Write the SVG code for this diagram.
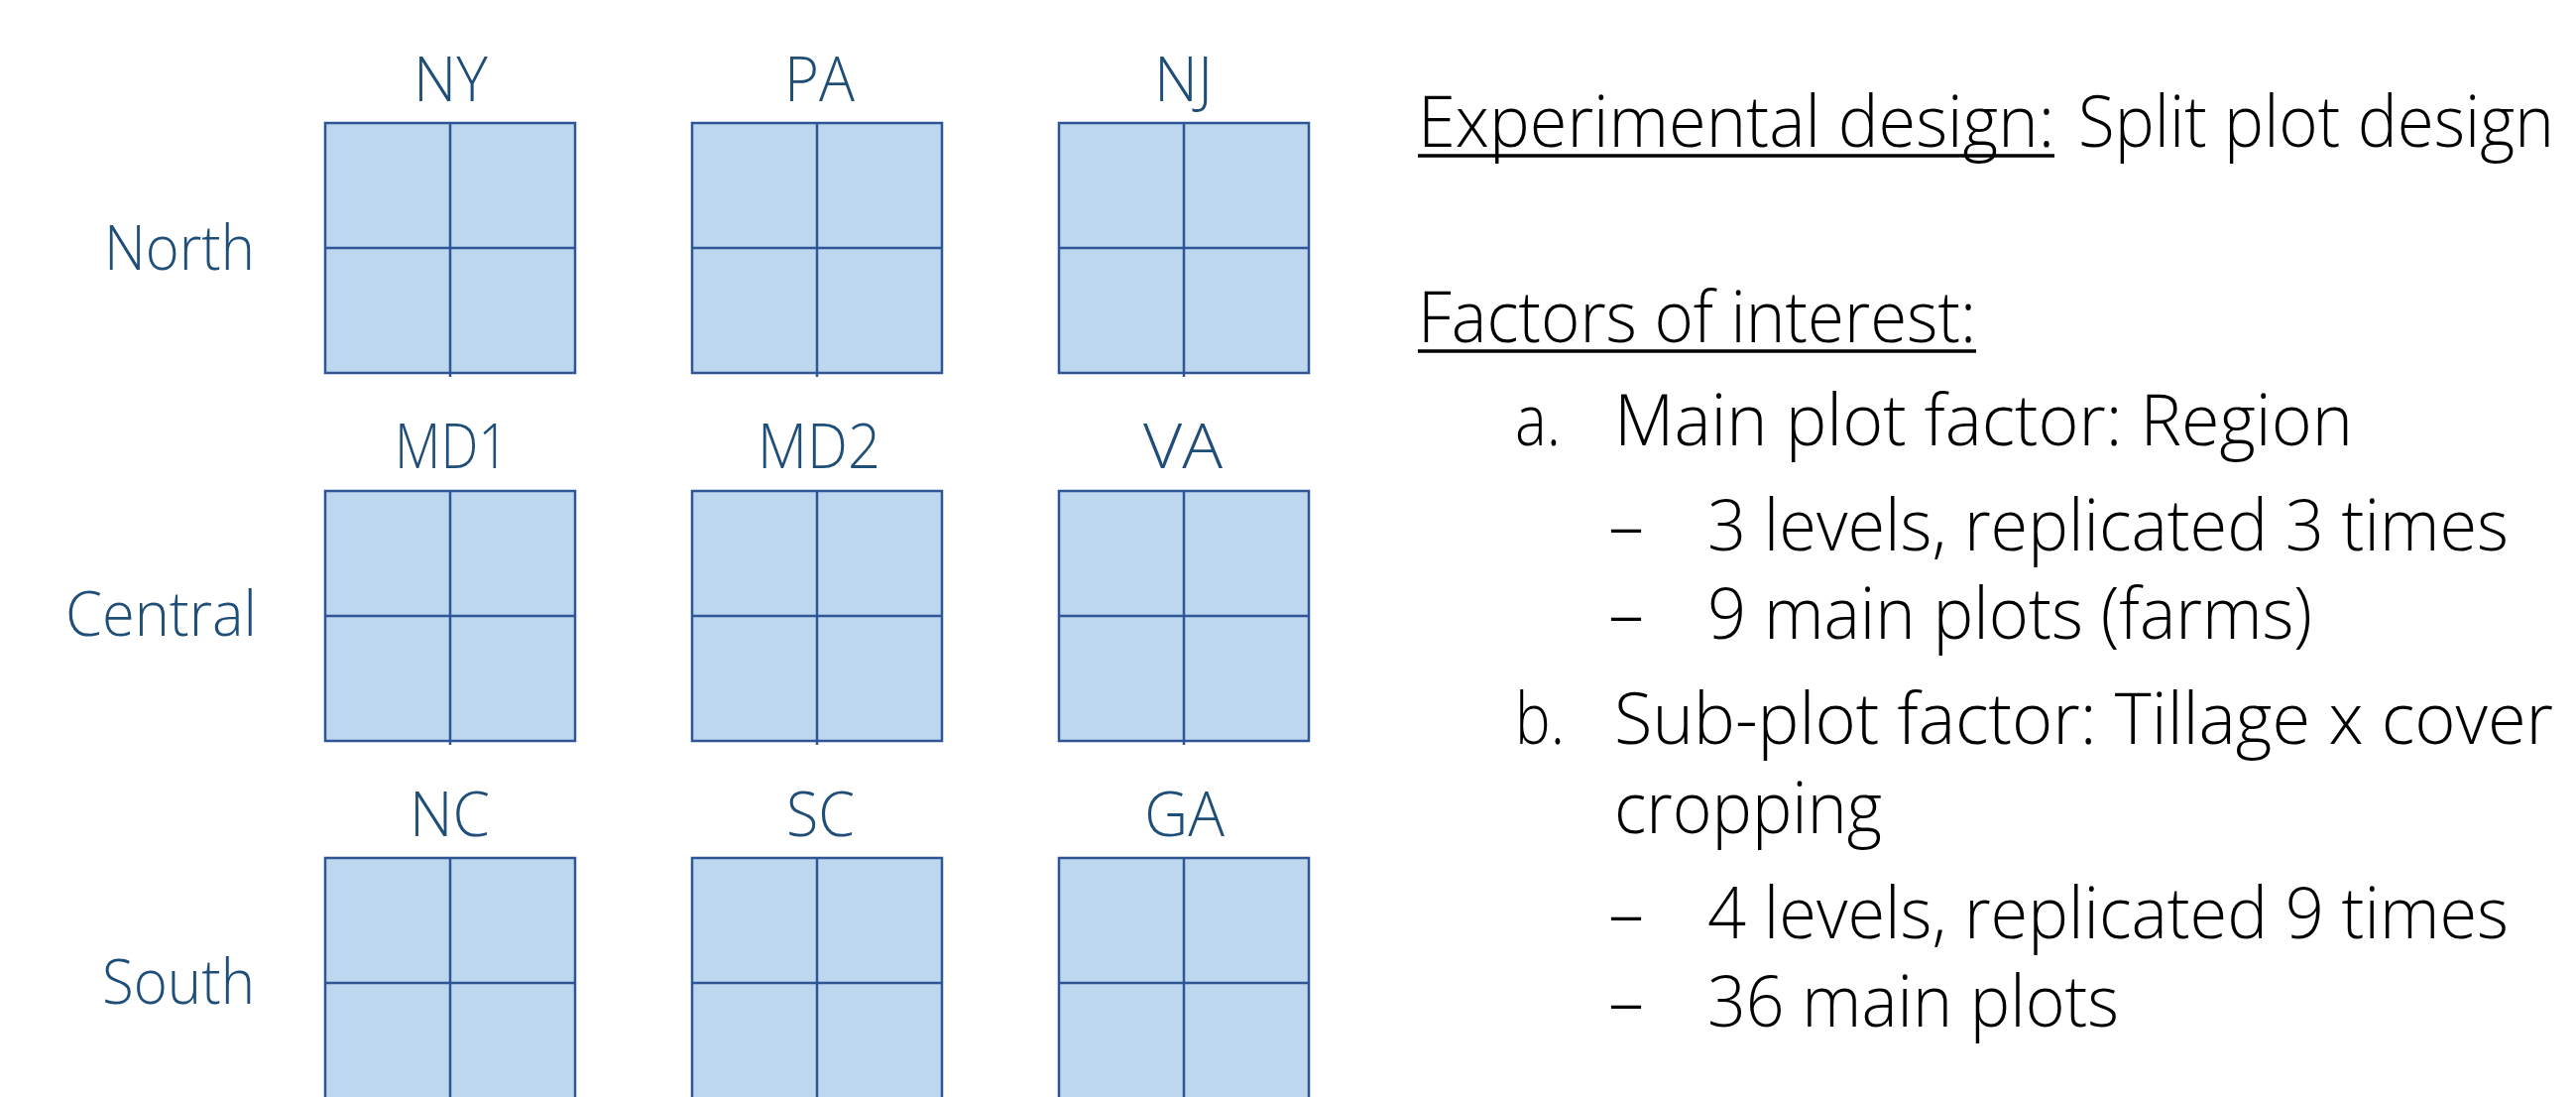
<svg xmlns="http://www.w3.org/2000/svg" width="2598" height="1106" viewBox="0 0 2598 1106">
<style>
.lbl{font-family:"Open Sans","Noto Sans","Liberation Sans",sans-serif;font-weight:300;font-size:63px;fill:#1F4E79}
.txt{font-family:"Open Sans","Noto Sans","Liberation Sans",sans-serif;font-weight:300;font-size:71px;fill:#000}
.box{fill:#BDD7EE;stroke:#2F5597;stroke-width:2.5}
.div{stroke:#2F5597;stroke-width:2.5}
.ul{stroke:#000;stroke-width:3.5}
</style>
<defs>
<g id="plot">
<rect class="box" x="0" y="0" width="252" height="252"/>
<line class="div" x1="126" y1="0" x2="126" y2="256"/>
<line class="div" x1="0" y1="126" x2="252" y2="126"/>
</g>
</defs>
<rect width="2598" height="1106" fill="#fff"/>
<g id="region-labels">
<text class="lbl" x="105" y="272" textLength="152" lengthAdjust="spacingAndGlyphs">North</text>
<text class="lbl" x="66" y="641" textLength="193" lengthAdjust="spacingAndGlyphs">Central</text>
<text class="lbl" x="103" y="1012" textLength="154" lengthAdjust="spacingAndGlyphs">South</text>
</g>
<g id="NY"><use href="#plot" x="328" y="124"/><text class="lbl" x="417" y="102" textLength="75" lengthAdjust="spacingAndGlyphs">NY</text></g>
<g id="PA"><use href="#plot" x="698" y="124"/><text class="lbl" x="791" y="102" textLength="71" lengthAdjust="spacingAndGlyphs">PA</text></g>
<g id="NJ"><use href="#plot" x="1068" y="124"/><text class="lbl" x="1164" y="102" textLength="59" lengthAdjust="spacingAndGlyphs">NJ</text></g>
<g id="MD1"><use href="#plot" x="328" y="495"/><text class="lbl" x="398" y="472" textLength="115" lengthAdjust="spacingAndGlyphs">MD1</text></g>
<g id="MD2"><use href="#plot" x="698" y="495"/><text class="lbl" x="764" y="472" textLength="124" lengthAdjust="spacingAndGlyphs">MD2</text></g>
<g id="VA"><use href="#plot" x="1068" y="495"/><text class="lbl" x="1153" y="472" textLength="80" lengthAdjust="spacingAndGlyphs">VA</text></g>
<g id="NC"><use href="#plot" x="328" y="865"/><text class="lbl" x="413" y="843" textLength="81" lengthAdjust="spacingAndGlyphs">NC</text></g>
<g id="SC"><use href="#plot" x="698" y="865"/><text class="lbl" x="793" y="843" textLength="69" lengthAdjust="spacingAndGlyphs">SC</text></g>
<g id="GA"><use href="#plot" x="1068" y="865"/><text class="lbl" x="1154" y="843" textLength="81" lengthAdjust="spacingAndGlyphs">GA</text></g>
<g id="description">
<text class="txt" x="1430" y="148" textLength="642" lengthAdjust="spacingAndGlyphs">Experimental design:</text>
<text class="txt" x="2096" y="148" textLength="480" lengthAdjust="spacingAndGlyphs">Split plot design</text>
<line class="ul" x1="1430" y1="157" x2="2072" y2="157"/>
<text class="txt" x="1430" y="345" textLength="563" lengthAdjust="spacingAndGlyphs">Factors of interest:</text>
<line class="ul" x1="1430" y1="354" x2="1993" y2="354"/>
<text class="txt" x="1528" y="449" textLength="46" lengthAdjust="spacingAndGlyphs">a.</text>
<text class="txt" x="1628" y="449" textLength="745" lengthAdjust="spacingAndGlyphs">Main plot factor: Region</text>
<text class="txt" x="1622" y="555" textLength="36" lengthAdjust="spacingAndGlyphs">–</text>
<text class="txt" x="1722" y="555" textLength="808" lengthAdjust="spacingAndGlyphs">3 levels, replicated 3 times</text>
<text class="txt" x="1622" y="644" textLength="36" lengthAdjust="spacingAndGlyphs">–</text>
<text class="txt" x="1722" y="644" textLength="610" lengthAdjust="spacingAndGlyphs">9 main plots (farms)</text>
<text class="txt" x="1528" y="750" textLength="50" lengthAdjust="spacingAndGlyphs">b.</text>
<text class="txt" x="1628" y="750" textLength="947" lengthAdjust="spacingAndGlyphs">Sub-plot factor: Tillage x cover</text>
<text class="txt" x="1628" y="840" textLength="270" lengthAdjust="spacingAndGlyphs">cropping</text>
<text class="txt" x="1622" y="946" textLength="36" lengthAdjust="spacingAndGlyphs">–</text>
<text class="txt" x="1722" y="946" textLength="808" lengthAdjust="spacingAndGlyphs">4 levels, replicated 9 times</text>
<text class="txt" x="1622" y="1035" textLength="36" lengthAdjust="spacingAndGlyphs">–</text>
<text class="txt" x="1722" y="1035" textLength="415" lengthAdjust="spacingAndGlyphs">36 main plots</text>
</g>
</svg>
